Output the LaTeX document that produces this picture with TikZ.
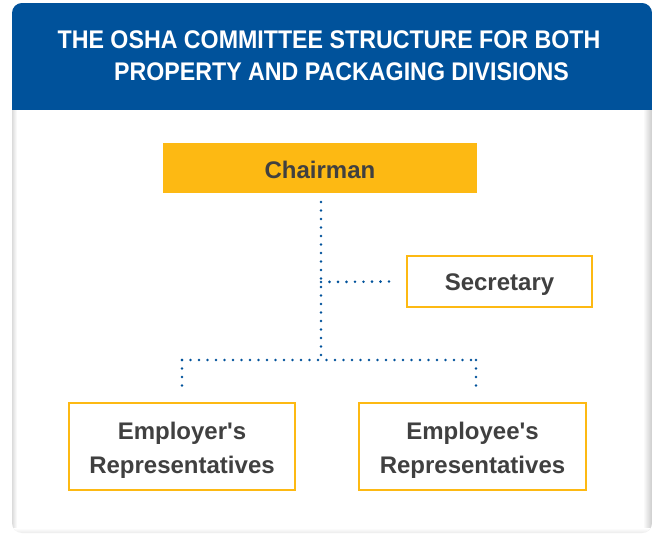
\documentclass[tikz,border=0pt]{standalone}
\usepackage{fontspec}
\setmainfont{Liberation Sans}
\newfontfamily\octitlefont[FakeStretch=0.91]{Liberation Sans}
\definecolor{ocblue}{RGB}{0,82,155}
\definecolor{ocyellow}{RGB}{253,185,19}
\definecolor{octext}{RGB}{64,64,64}
\newcommand\oclow[2]{\raisebox{-#1}[\height][\depth]{#2}}
\begin{document}
\begin{tikzpicture}[x=1pt,y=-1pt,
  box/.style={draw=ocyellow, line width=2pt, fill=white, text=octext,
    font=\bfseries\fontsize{24}{34}\selectfont, align=center, inner sep=0pt},
  dotline/.style={ocblue, line width=2.9pt, dash pattern=on 0pt off 8.5pt, line cap=round}]
\useasboundingbox (0,0) rectangle (653,534);
\fill[white] (0,0) rectangle (653,534);
\begin{scope}
  \path[clip, rounded corners=10pt] (12,3) rectangle (652,533);
  \fill[white] (12,3) rectangle (652,533);
  \shade[left color=black!14, right color=white] (12,110) rectangle (17,533);
  \shade[left color=white, right color=black!20] (643,110) rectangle (652,533);
  \shade[top color=white, bottom color=black!8] (12,528) rectangle (652,533);
  \fill[ocblue] (12,3) rectangle (652,110);
\end{scope}
\node (title) at (329,56) [text=white, align=center, font=\octitlefont\bfseries\fontsize{25.5}{32}\selectfont]
  {THE OSHA COMMITTEE STRUCTURE FOR BOTH\\\hspace*{25pt}PROPERTY AND PACKAGING DIVISIONS};
\node (chair) at (320,168) [box, draw=none, fill=ocyellow, minimum width=314pt, minimum height=50pt] {\oclow{2pt}{Chairman}};
\node (sec) at (499.5,281.5) [box, minimum width=185pt, minimum height=51pt] {\oclow{3pt}{Secretary}};
\node (emp1) at (182,446.5) [box, minimum width=226pt, minimum height=87pt] {\oclow{4pt}{Employer\textquotesingle s}\\\oclow{4pt}{Representatives}};
\node (emp2) at (472.5,446.5) [box, minimum width=227pt, minimum height=87pt] {\oclow{4pt}{Employee\textquotesingle s}\\\oclow{4pt}{Representatives}};
\coordinate (j1) at (321,282);
\coordinate (j2) at (321,360);
\coordinate (l1) at (182,360);
\coordinate (r1) at (476,360);
\draw[dotline] ([xshift=1pt,yshift=-8pt]chair.south) -- (j2);
\draw[dotline] (j1) -- ([xshift=-10pt]sec.west);
\draw[dotline] (l1) -- (r1);
\draw[dotline] (l1) -- ([yshift=12pt]emp1.north);
\draw[dotline] (r1) -- ([yshift=12pt]emp2.north -| r1);
\end{tikzpicture}
\end{document}
